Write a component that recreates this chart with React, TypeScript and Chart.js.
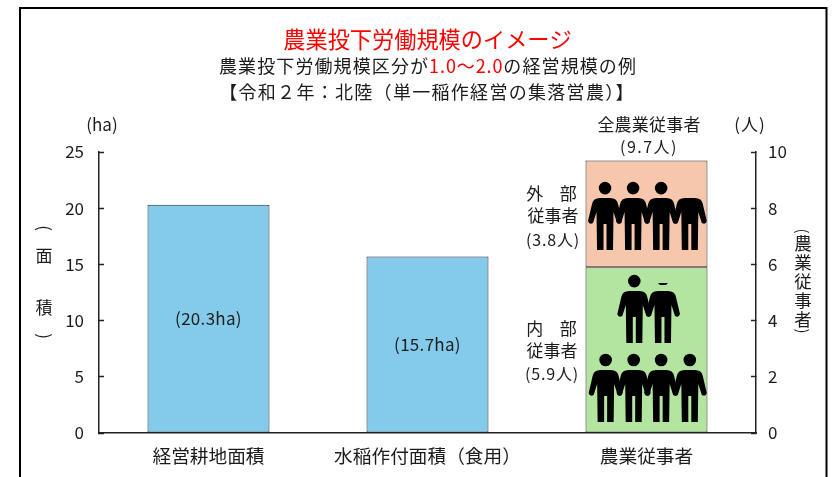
import React, { useEffect, useRef } from "react";
import { Chart, registerables } from "chart.js";

Chart.register(...registerables);

const categories = ["経営耕地面積", "水稲作付面積\uFF08食用\uFF09", "農業従事者"];
const areaValues = [20.3, 15.7, null];
const innerWorkers = [null, null, 5.9];
const outerWorkers = [null, null, 3.8];
const areaLabels = ["(20.3ha)", "(15.7ha)"];
const titleText = "農業投下労働規模のイメージ";
const subtitleParts = ["農業投下労働規模区分が", "1.0〜2.0", "の経営規模の例"];
const subtitleLine2 = "【令和\uFF12年\uFF1A北陸\uFF08単一稲作経営の集落営農\uFF09】";

const FONT = '"Noto Sans CJK JP", "Noto Sans", sans-serif';
const INK = "#1c1c1c";

// Pictogram layout: feet level on the people axis, x offset as share of bar width, head shown or not.
const iconRows = [
  { foot: 6.51, people: [{ dx: -0.34, head: 1 }, { dx: -0.11, head: 1 }, { dx: 0.12, head: 1 }, { dx: 0.355, head: 0 }] },
  { foot: 3.2, people: [{ dx: -0.1, head: 1 }, { dx: 0.135, head: 2 }] },
  { foot: 0.39, people: [{ dx: -0.335, head: 1 }, { dx: -0.105, head: 1 }, { dx: 0.12, head: 1 }, { dx: 0.355, head: 1 }] },
];

function drawPerson(ctx: CanvasRenderingContext2D, cx: number, feet: number, head: number) {
  const s = feet - 52;
  ctx.fillStyle = "#000";
  if (head === 1) {
    ctx.beginPath();
    ctx.arc(cx, s - 10, 6.3, 0, Math.PI * 2);
    ctx.fill();
  } else if (head === 2) {
    ctx.beginPath();
    ctx.moveTo(cx - 5, s - 8);
    ctx.lineTo(cx + 5, s - 8);
    ctx.lineTo(cx + 3, s - 6);
    ctx.lineTo(cx - 3, s - 6);
    ctx.closePath();
    ctx.fill();
  }
  ctx.beginPath();
  ctx.moveTo(cx - 5, s);
  ctx.lineTo(cx + 5, s);
  ctx.quadraticCurveTo(cx + 12, s, cx + 13, s + 6);
  ctx.lineTo(cx + 17, s + 23);
  ctx.quadraticCurveTo(cx + 16, s + 27, cx + 12, s + 25);
  ctx.lineTo(cx + 8.5, s + 14);
  ctx.lineTo(cx + 8, s + 52);
  ctx.lineTo(cx + 1.5, s + 52);
  ctx.lineTo(cx + 1.5, s + 26);
  ctx.lineTo(cx - 1.5, s + 26);
  ctx.lineTo(cx - 1.5, s + 52);
  ctx.lineTo(cx - 8, s + 52);
  ctx.lineTo(cx - 8.5, s + 14);
  ctx.lineTo(cx - 12, s + 25);
  ctx.quadraticCurveTo(cx - 16, s + 27, cx - 17, s + 23);
  ctx.lineTo(cx - 13, s + 6);
  ctx.quadraticCurveTo(cx - 12, s, cx - 5, s);
  ctx.closePath();
  ctx.fill();
}

function text(ctx: CanvasRenderingContext2D, t: string, x: number, y: number, size = 16, spacing = 0) {
  ctx.font = `${size}px ${FONT}`;
  ctx.fillStyle = INK;
  ctx.textAlign = "center";
  ctx.textBaseline = "middle";
  (ctx as any).letterSpacing = `${spacing}px`;
  ctx.fillText(t, x, y);
  (ctx as any).letterSpacing = "0px";
}

// A bracket of a vertical title: the glyph turned a quarter clockwise.
function arc(ctx: CanvasRenderingContext2D, t: string, x: number, y: number, size: number) {
  ctx.save();
  ctx.translate(x, y);
  ctx.rotate(Math.PI / 2);
  text(ctx, t, 0, 0, size);
  ctx.restore();
}

const overlay = {
  id: "overlay",
  afterDraw(chart: any) {
    const { ctx, scales } = chart;
    const y1 = scales.y1;
    ctx.save();

    // outer frame, open at the bottom
    ctx.strokeStyle = "#000";
    ctx.lineWidth = 2;
    ctx.beginPath();
    ctx.moveTo(20, 477);
    ctx.lineTo(20, 8);
    ctx.lineTo(826.5, 8);
    ctx.lineTo(826.5, 477);
    ctx.stroke();

    // subtitle with its red segment
    ctx.font = `18px ${FONT}`;
    ctx.textAlign = "left";
    ctx.textBaseline = "middle";
    const spacings = [1.1, 0.9, 1.1];
    let x = 219;
    subtitleParts.forEach((p, i) => {
      (ctx as any).letterSpacing = `${spacings[i]}px`;
      ctx.fillStyle = i === 1 ? "#ff0000" : INK;
      ctx.fillText(p, x, 66);
      x += ctx.measureText(p).width;
    });
    (ctx as any).letterSpacing = "0px";
    text(ctx, subtitleLine2, 427, 92, 18, 1.3);

    // bar value labels
    const meta = chart.getDatasetMeta(0);
    areaLabels.forEach((label, i) => {
      const el = meta.data[i];
      text(ctx, label, el.x, (el.y + el.base) / 2, 17, 0.3);
    });

    // units and group labels
    text(ctx, "(ha)", 102, 125, 17);
    text(ctx, "(人)", 750, 125, 17, 1);
    text(ctx, "全農業従事者", 649, 125, 17, 0.2);
    text(ctx, "(9.7人)", 649, 147, 16, 1.5);
    text(ctx, "外  部", 553, 194, 17, 3);
    text(ctx, "従事者", 553, 216, 17);
    text(ctx, "(3.8人)", 553, 240, 16, 0.8);
    text(ctx, "内  部", 553, 329, 17, 3);
    text(ctx, "従事者", 552, 351, 17);
    text(ctx, "(5.9人)", 552, 374, 16, 0.8);

    // vertical axis titles
    arc(ctx, "(", 44, 228, 17);
    text(ctx, "面", 44, 256, 17);
    text(ctx, "積", 44, 308, 17);
    arc(ctx, ")", 44, 336, 17);
    arc(ctx, "(", 803, 231, 15);
    ["農", "業", "従", "事", "者"].forEach((c, i) => {
      const ys = [243, 262, 281, 300, 319];
      text(ctx, c, 803, ys[i], 17.5);
    });
    arc(ctx, ")", 803, 331, 15);

    // pictograms
    const bar = chart.getDatasetMeta(1).data[2];
    iconRows.forEach((row) => {
      const feet = y1.getPixelForValue(row.foot);
      row.people.forEach((p) => drawPerson(ctx, bar.x + p.dx * bar.width, feet, p.head));
    });
    ctx.restore();
  },
};

export default function App() {
  const ref = useRef<HTMLCanvasElement>(null);
  useEffect(() => {
    const chart = new Chart(ref.current as HTMLCanvasElement, {
      type: "bar",
      data: {
        labels: categories,
        datasets: [
          { label: "面積", data: areaValues, yAxisID: "y", backgroundColor: "#83CAEB" },
          { label: "内部従事者", data: innerWorkers, yAxisID: "y1", backgroundColor: "#B3E5A1" },
          { label: "外部従事者", data: outerWorkers, yAxisID: "y1", backgroundColor: "#F6C6AD" },
        ],
      },
      options: {
        responsive: false,
        animation: false,
        layout: { padding: 0 },
        datasets: { bar: { barPercentage: 0.557, categoryPercentage: 1, borderColor: "#2a2a2a", borderWidth: 1 } },
        elements: { bar: { borderSkipped: false } },
        plugins: {
          legend: { display: false },
          tooltip: { enabled: false },
          title: {
            display: true,
            text: titleText,
            color: "#ff0000",
            fullSize: false,
            font: { family: FONT, size: 22.2, weight: "normal", lineHeight: 1.2 },
            padding: { top: 26, bottom: 99.4 },
          },
        },
        scales: {
          x: {
            stacked: true,
            grid: { drawOnChartArea: false, drawTicks: false },
            border: { color: "#222", width: 1.5 },
            ticks: { color: INK, font: { family: FONT, size: 18.7 }, padding: 12, maxRotation: 0 },
            afterFit: (s: any) => { s.height = 44; },
          },
          y: {
            position: "left",
            min: 0,
            max: 25,
            grid: { drawOnChartArea: false, tickLength: -5, color: "#222", tickWidth: 1.5 },
            border: { color: "#222", width: 1.5 },
            ticks: { stepSize: 5, color: INK, font: { family: FONT, size: 17 }, padding: 20 },
            afterFit: (s: any) => { s.width = 99; },
          },
          y1: {
            position: "right",
            stacked: true,
            min: 0,
            max: 10,
            grid: { drawOnChartArea: false, tickLength: -5, color: "#222", tickWidth: 1.5 },
            border: { color: "#222", width: 1.5 },
            ticks: { stepSize: 2, color: INK, font: { family: FONT, size: 17 }, padding: 17 },
            afterFit: (s: any) => { s.width = 79; },
          },
        },
      },
      plugins: [overlay],
    } as any);
    return () => chart.destroy();
  }, []);
  return (
    <canvas
      ref={ref}
      width={835}
      height={477}
      style={{ position: "absolute", left: 0, top: 0, width: 835, height: 477, background: "#fff" }}
    />
  );
}
